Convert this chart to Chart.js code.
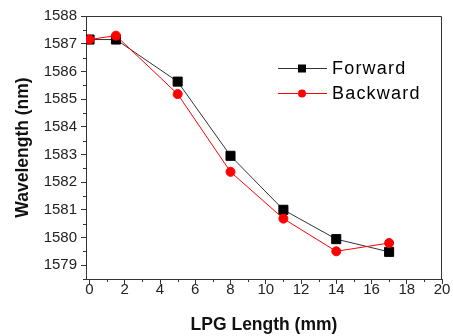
<!DOCTYPE html>
<html>
<head>
<meta charset="utf-8">
<script src="https://cdn.jsdelivr.net/npm/chart.js@4.4.1/dist/chart.umd.min.js"></script>
<style>
  html, body { margin: 0; padding: 0; background: #fff; }
  #wrap { width: 453px; height: 336px; }
</style>
</head>
<body>
<div id="wrap"><canvas id="myChart" width="453" height="336"></canvas></div>
<script>
// data
const lpgLength = [0, 1.5, 5, 8, 11, 14, 17];
const forward = [1587.15, 1587.15, 1585.63, 1582.95, 1581.0, 1579.94, 1579.48];
const backward = [1587.15, 1587.29, 1585.18, 1582.37, 1580.68, 1579.5, 1579.8];
const xTicks = [0, 2, 4, 6, 8, 10, 12, 14, 16, 18, 20];
const yTicks = [1579, 1580, 1581, 1582, 1583, 1584, 1585, 1586, 1587, 1588];
const xMinor = [1, 3, 5, 7, 9, 11, 13, 15, 17, 19];
const yMinor = [1578.5, 1579.5, 1580.5, 1581.5, 1582.5, 1583.5, 1584.5, 1585.5, 1586.5, 1587.5];

const FONT = "'Liberation Sans', Arial, sans-serif";
const AXIS = "#333";

const toPoints = (ys) => lpgLength.map((x, i) => ({ x, y: ys[i] }));

// frame, minor ticks and the inline legend
const extras = {
    id: "extras",
    afterDraw(chart) {
        const { ctx, chartArea: a, scales } = chart;
        const xs = scales.x, ys = scales.y;
        ctx.save();
        ctx.strokeStyle = AXIS;
        ctx.lineWidth = 1;
        ctx.beginPath();
        ctx.moveTo(a.left, a.top + 0.5);
        ctx.lineTo(a.right - 0.5, a.top + 0.5);
        ctx.lineTo(a.right - 0.5, a.bottom);
        xMinor.forEach((v) => {
            const px = Math.round(xs.getPixelForValue(v)) + 0.5;
            ctx.moveTo(px, a.bottom);
            ctx.lineTo(px, a.bottom + 3);
        });
        yMinor.forEach((v) => {
            const py = Math.round(ys.getPixelForValue(v)) + 0.5;
            ctx.moveTo(a.left, py);
            ctx.lineTo(a.left - 3, py);
        });
        ctx.stroke();

        // legend
        const rows = [
            { ds: chart.data.datasets[1], y: 68 },
            { ds: chart.data.datasets[0], y: 93 },
        ];
        ctx.font = "18px " + FONT;
        ctx.letterSpacing = "1.2px";
        ctx.textBaseline = "middle";
        rows.forEach(({ ds, y }) => {
            ctx.strokeStyle = ds.borderColor;
            ctx.lineWidth = 1;
            ctx.beginPath();
            ctx.moveTo(278, y + 0.5);
            ctx.lineTo(327, y + 0.5);
            ctx.stroke();
            ctx.fillStyle = ds.pointBackgroundColor;
            ctx.beginPath();
            if (ds.pointStyle === "rect") {
                ctx.rect(298, y - 3.5, 8, 8);
            } else {
                ctx.arc(302, y + 0.5, 4, 0, Math.PI * 2);
            }
            ctx.fill();
            ctx.fillStyle = "#000";
            ctx.fillText(ds.label, 332, y + 1);
        });
        ctx.restore();
    },
};

new Chart(document.getElementById("myChart").getContext("2d"), {
    type: "line",
    data: {
        datasets: [
            {
                label: "Backward",
                data: toPoints(backward),
                borderColor: "#ff0000",
                backgroundColor: "#ff0000",
                pointBackgroundColor: "#ff0000",
                pointBorderColor: "#ff0000",
                pointStyle: "circle",
                pointRadius: 4.5,
                borderWidth: 1,
                tension: 0,
                order: 0,
            },
            {
                label: "Forward",
                data: toPoints(forward),
                borderColor: "#333333",
                backgroundColor: "#000000",
                pointBackgroundColor: "#000000",
                pointBorderColor: "#000000",
                pointStyle: "rect",
                pointRadius: 6.4,
                borderWidth: 1,
                tension: 0,
                order: 1,
            },
        ],
    },
    options: {
        responsive: false,
        animation: false,
        layout: { padding: { top: 16, right: 11, left: 0, bottom: 0 } },
        plugins: {
            legend: { display: false },
            tooltip: { enabled: false },
        },
        scales: {
            x: {
                type: "linear",
                min: -0.2,
                max: 20,
                afterBuildTicks: (s) => { s.ticks = xTicks.map((v) => ({ value: v })); },
                afterFit: (s) => { s.height = 57; },
                grid: { drawOnChartArea: false, drawTicks: true, tickLength: 5, tickColor: AXIS },
                border: { display: true, color: AXIS, width: 1 },
                ticks: {
                    color: "#222",
                    font: { family: FONT, size: 15 },
                    padding: -3,
                    maxRotation: 0,
                    callback: (v) => String(v),
                },
                title: {
                    display: true,
                    text: "LPG Length (mm)",
                    color: "#111",
                    font: { family: FONT, size: 17.5, weight: "bold" },
                    padding: { top: 6, bottom: 0 },
                },
            },
            y: {
                min: 1578.5,
                max: 1588,
                afterBuildTicks: (s) => { s.ticks = yTicks.map((v) => ({ value: v })); },
                afterFit: (s) => { s.width = 86; },
                grid: { drawOnChartArea: false, drawTicks: true, tickLength: 5, tickColor: AXIS },
                border: { display: true, color: AXIS, width: 1 },
                ticks: {
                    color: "#222",
                    font: { family: FONT, size: 15 },
                    padding: 4,
                    callback: (v) => String(v),
                },
                title: {
                    display: true,
                    text: "Wavelength (nm)",
                    color: "#111",
                    font: { family: FONT, size: 17.5, weight: "bold" },
                    padding: { top: 13, bottom: 0 },
                },
            },
        },
    },
    plugins: [extras],
});
</script>
</body>
</html>
